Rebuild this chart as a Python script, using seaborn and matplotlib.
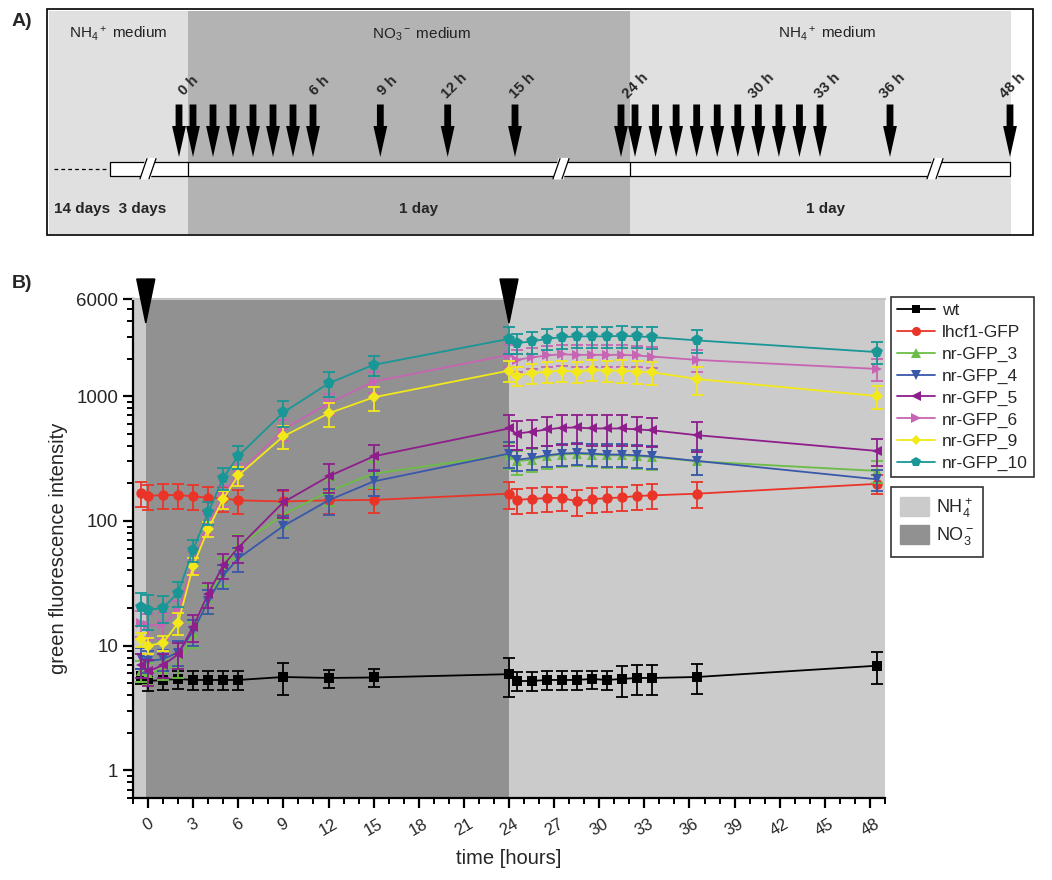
import numpy as np
import pandas as pd
import matplotlib
matplotlib.use("Agg")
import matplotlib.pyplot as plt
import seaborn as sns
from matplotlib.patches import Rectangle, Polygon, Patch
from matplotlib.lines import Line2D
import matplotlib.transforms as mtransforms
from matplotlib.ticker import LogLocator, NullFormatter, MultipleLocator, FixedLocator

# ---------------- data ----------------
times = [-0.5, 0, 1, 2, 3, 4, 5, 6, 9, 12, 15, 24, 24.5, 25.5, 26.5, 27.5, 28.5,
         29.5, 30.5, 31.5, 32.5, 33.5, 36.5, 48.5]

strains = ["wt", "lhcf1-GFP", "nr-GFP_3", "nr-GFP_4", "nr-GFP_5", "nr-GFP_6",
           "nr-GFP_9", "nr-GFP_10"]

wt = [5.7, 5.2, 5.3, 5.4, 5.3, 5.3, 5.3, 5.3, 5.6, 5.5, 5.55, 5.9, 5.2, 5.2, 5.3,
      5.3, 5.3, 5.4, 5.3, 5.4, 5.5, 5.5, 5.6, 6.9]
wt_err = [0.8, 0.9, 0.9, 0.9, 0.9, 0.9, 0.9, 0.9, 1.6, 0.9, 0.9, 2.0, 0.9, 0.9, 0.9,
          0.9, 0.9, 0.9, 0.9, 1.5, 1.5, 1.5, 1.5, 2.0]

lhcf1 = [168, 158, 161, 161, 157, 153, 151, 146, 143, 146, 147, 165, 147, 150, 152,
         153, 143, 149, 152, 154, 158, 160, 165, 198]
lhcf1_err = [38, 36, 36, 36, 36, 34, 34, 32, 32, 32, 32, 40, 34, 34, 34, 34, 34, 34,
             34, 34, 36, 36, 38, 35]

nr3 = [6.3, 6.0, 6.5, 7.0, 12.5, 24, 40, 63, 112, 172, 239, 340, 300, 310, 330, 340,
       345, 340, 335, 335, 330, 325, 300, 251]
nr3_err = [1.2, 1.2, 1.2, 1.5, 3, 6, 10, 14, 25, 40, 55, 80, 65, 65, 70, 70, 70, 70,
           70, 70, 70, 70, 65, 50]

nr4 = [8.0, 7.5, 7.8, 8.8, 13, 22.8, 36.6, 50, 91, 146, 207, 346, 309, 319, 335, 346,
       350, 346, 340, 340, 335, 329, 302, 215]
nr4_err = [1.5, 1.5, 1.5, 2, 3, 5, 8, 11, 18, 35, 50, 80, 60, 65, 65, 70, 70, 70, 70,
           70, 70, 70, 70, 40]

nr5 = [7.0, 6.2, 7.0, 8.5, 14.2, 26, 44, 61, 141, 227, 329, 550, 501, 517, 540, 557,
       560, 550, 550, 550, 540, 532, 486, 363]
nr5_err = [1.5, 1.5, 1.5, 2, 3.5, 6, 10, 15, 35, 60, 80, 150, 130, 130, 140, 150, 150,
           150, 150, 150, 140, 140, 130, 90]

nr6 = [15.3, 14.5, 14.8, 18.9, 47, 95, 160, 240, 540, 873, 1306, 2140, 1950, 2040,
       2115, 2165, 2140, 2140, 2140, 2140, 2115, 2075, 1950, 1650]
nr6_err = [3.5, 3.5, 3.5, 4, 9, 18, 30, 45, 100, 170, 250, 420, 380, 400, 420, 420,
           420, 420, 420, 420, 420, 400, 380, 320]

nr9 = [11.2, 10.0, 10.5, 15.2, 43.6, 86, 150, 231, 476, 727, 977, 1600, 1459, 1523,
       1572, 1602, 1572, 1620, 1602, 1602, 1572, 1552, 1370, 1000]
nr9_err = [1.5, 1.5, 1.5, 3, 7, 12, 25, 40, 100, 160, 215, 300, 260, 280, 290, 300,
           300, 310, 310, 330, 330, 330, 350, 210]

nr10 = [20.4, 19.3, 20.1, 26.5, 58.6, 117, 221, 331, 740, 1265, 1780, 2875, 2657,
        2740, 2875, 2970, 3010, 3010, 3010, 3040, 3010, 2970, 2795, 2250]
nr10_err = [6, 6, 5, 6, 12, 25, 45, 70, 180, 290, 320, 700, 500, 550, 550, 600, 600,
            600, 600, 600, 600, 600, 600, 450]

values = [wt, lhcf1, nr3, nr4, nr5, nr6, nr9, nr10]
errors = [wt_err, lhcf1_err, nr3_err, nr4_err, nr5_err, nr6_err, nr9_err, nr10_err]

no3_period = [-0.15, 24]          # nitrate medium interval (hours)
y_ticks = [1, 10, 100, 1000, 6000]
x_ticks = list(range(0, 49, 3))

# schematic (panel A) time -> drawing scale anchors
sch_t = [-0.5, 0, 6, 15, 24, 24.5, 33.5, 36.5, 48.5]
sch_px = [179, 193, 313, 515, 621, 635, 820, 890, 1010]
sch_labels = ["0 h", "6 h", "9 h", "12 h", "15 h", "24 h", "30 h", "33 h", "36 h", "48 h"]
sch_label_px = [189, 320, 388, 454, 522, 636, 762, 828, 893, 1013]

# ---------------- style ----------------
colors = ["#000000", "#ea3428", "#6bbd45", "#3a58aa", "#8e1e8c", "#c864b4",
          "#f2e81a", "#199696"]
markers = ["s", "o", "^", "v", "<", ">", "D", "p"]
msizes = [6.5, 7.5, 7.5, 7.5, 7.5, 7.5, 6.5, 8.5]
LIGHT = "#cbcbcb"
DARK = "#919191"

sns.set_theme(style="ticks")
plt.rcParams['font.family'] = ['Liberation Sans', 'DejaVu Sans']
plt.rcParams['mathtext.fontset'] = 'custom'
plt.rcParams['mathtext.rm'] = 'Liberation Sans'
plt.rcParams['mathtext.it'] = 'Liberation Sans:italic'
plt.rcParams['mathtext.bf'] = 'Liberation Sans:bold'

fig = plt.figure(figsize=(10.52, 8.8), dpi=100)

# ---------------- panel B ----------------
ax = fig.add_axes([133/1052, 1-798/880, (885-133)/1052, (798-299)/880])
ax.axvspan(-1, 49, color=LIGHT, zorder=0, lw=0)
ax.axvspan(no3_period[0], no3_period[1], color=DARK, zorder=0.5, lw=0)

rows = []
for name, vals in zip(strains, values):
    for t, v in zip(times, vals):
        rows.append({"time": t, "value": v, "strain": name})
df = pd.DataFrame(rows)

for i, name in enumerate(strains):
    sub = df[df["strain"] == name]
    sns.lineplot(data=sub, x="time", y="value", color=colors[i], marker=markers[i],
                 markersize=msizes[i], markeredgewidth=0, linewidth=1.3,
                 estimator=None, sort=False, ax=ax, zorder=3 + i)
    ax.errorbar(times, values[i], yerr=errors[i], fmt="none", ecolor=colors[i],
                elinewidth=1.3, capsize=4.5, capthick=1.3, zorder=2.5 + i)

ax.set_yscale("log")
ax.set_ylim(0.6, 6000)
ax.set_xlim(-1, 49)
ax.yaxis.set_major_locator(FixedLocator(y_ticks))
ax.set_yticklabels([str(v) for v in y_ticks])
ax.yaxis.set_minor_locator(LogLocator(base=10, subs=np.arange(2, 10)))
ax.yaxis.set_minor_formatter(NullFormatter())
ax.set_xticks(x_ticks)
ax.set_xticklabels([str(v) for v in x_ticks], rotation=30, fontsize=12)
ax.xaxis.set_minor_locator(MultipleLocator(1))
ax.tick_params(axis="y", which="major", labelsize=13.5, length=7, width=1.6,
               direction="out", color="black")
ax.tick_params(axis="y", which="minor", length=4.5, width=1.4, direction="out",
               color="black")
ax.tick_params(axis="x", which="major", length=7, width=1.6, direction="out",
               color="black", pad=6)
ax.tick_params(axis="x", which="minor", length=4, width=1.4, direction="out",
               color="black")
for s in ["left", "bottom"]:
    ax.spines[s].set_linewidth(1.6)
    ax.spines[s].set_color("black")
ax.spines["right"].set_visible(False)
ax.spines["top"].set_color("#c4c4c4")
ax.spines["top"].set_linewidth(1.5)
ax.set_xlabel("time [hours]", fontsize=14.5, labelpad=8)
ax.set_ylabel("green fluorescence intensity", fontsize=14.5, labelpad=6)
ax.grid(False)

trans = mtransforms.blended_transform_factory(ax.transData, ax.transAxes)
for xt in no3_period:
    ax.add_patch(Polygon([(xt - 0.6, 1.04), (xt + 0.6, 1.04), (xt, 0.952)],
                         closed=True, color="black", transform=trans,
                         clip_on=False, zorder=20))

handles = [Line2D([0], [0], color=colors[i], marker=markers[i], markersize=msizes[i] - 1,
                  markeredgewidth=0, lw=1.3) for i in range(len(strains))]
leg1 = fig.legend(handles, strains, loc="upper left", bbox_to_anchor=(891/1052, 1-297/880),
                  fontsize=12.5, frameon=True, fancybox=False, edgecolor="black",
                  handlelength=2.2, handletextpad=0.4, labelspacing=0.38,
                  borderpad=0.35, borderaxespad=0)
leg1.get_frame().set_linewidth(1.2)
patches = [Patch(facecolor=LIGHT, edgecolor=LIGHT, label=r"NH$_4^+$"),
           Patch(facecolor=DARK, edgecolor=DARK, label=r"NO$_3^-$")]
leg2 = fig.legend(handles=patches, loc="upper left", bbox_to_anchor=(891/1052, 1-487/880),
                  fontsize=13, frameon=True, fancybox=False, edgecolor="black",
                  handlelength=1.6, handleheight=1.2, handletextpad=0.4,
                  labelspacing=0.3, borderpad=0.5, borderaxespad=0)
leg2.get_frame().set_linewidth(1.2)

# ---------------- panel A (schematic) ----------------
axA = fig.add_axes([0, 1-240/880, 1, 240/880])
axA.set_xlim(0, 1052)
axA.set_ylim(240, 0)
axA.axis("off")
axA.add_patch(Rectangle((49, 11), 187.6 - 49, 223, color="#e0e0e0", lw=0))
axA.add_patch(Rectangle((187.6, 11), 630.3 - 187.6, 223, color="#b3b3b3", lw=0))
axA.add_patch(Rectangle((630.3, 11), 1011 - 630.3, 223, color="#e0e0e0", lw=0))
axA.add_patch(Rectangle((46.5, 9.5), 986, 226, fill=False, ec="black", lw=1.2))

# timeline bar
y0, y1 = 161.6, 175.8
ym = (y0 + y1) / 2
axA.plot([54, 109], [ym, ym], color="black", lw=0.9, ls=(0, (3, 2.5)))
axA.add_patch(Rectangle((110, y0), 1010 - 110, y1 - y0, facecolor="white",
                        edgecolor="black", lw=0.9))
for xv in [187.6, 630.3]:
    axA.plot([xv, xv], [y0, y1], color="black", lw=0.9)
for bx in [148, 561, 935]:
    axA.add_patch(Polygon([(bx - 7, y1 + 3), (bx + 2, y1 + 3), (bx + 7, y0 - 3),
                           (bx - 2, y0 - 3)], closed=True, color="white", zorder=3))
    for dx in [-4.5, 4.5]:
        axA.plot([bx + dx - 3.5, bx + dx + 3.5], [y1 + 3, y0 - 3], color="black",
                 lw=0.9, zorder=4)

# arrows at sampling times
arrow_x = np.interp(times, sch_t, sch_px)
for xa in arrow_x:
    axA.add_patch(Polygon([(xa - 3.4, 104.5), (xa + 3.4, 104.5), (xa + 3.4, 126),
                           (xa + 6.9, 126), (xa, 157), (xa - 6.9, 126), (xa - 3.4, 126)],
                          closed=True, color="black", lw=0, zorder=5))
for lab, xl in zip(sch_labels, sch_label_px):
    axA.text(xl, 86, lab, rotation=45, ha="center", va="center", fontsize=10.5,
             fontweight="bold")

axA.text(118, 34, r"NH$_4$$^+$ medium", ha="center", va="center", fontsize=11,
         color="#222222")
axA.text(422, 34, r"NO$_3$$^-$ medium", ha="center", va="center", fontsize=11,
         color="#222222")
axA.text(827, 34, r"NH$_4$$^+$ medium", ha="center", va="center", fontsize=11,
         color="#222222")
axA.text(54, 209, "14 days  3 days", ha="left", va="center", fontsize=11,
         fontweight="bold")
axA.text(419, 209, "1 day", ha="center", va="center", fontsize=11, fontweight="bold")
axA.text(826, 209, "1 day", ha="center", va="center", fontsize=11, fontweight="bold")

fig.text(12/1052, 1-21/880, "A)", fontsize=14, fontweight="bold", va="center")
fig.text(12/1052, 1-283/880, "B)", fontsize=14, fontweight="bold", va="center")

fig.savefig("out.png", dpi=100)
